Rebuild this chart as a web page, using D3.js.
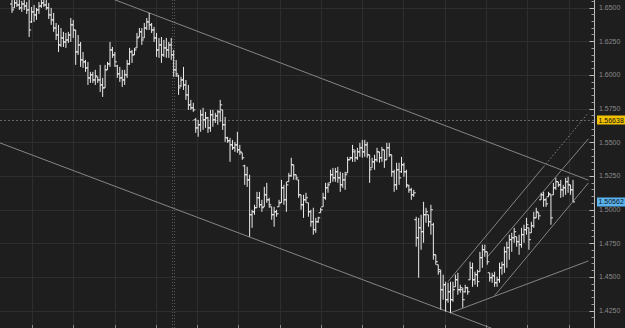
<!DOCTYPE html>
<html>
<head>
<meta charset="utf-8">
<script src="https://cdn.jsdelivr.net/npm/d3@7"></script>
<style>
  html, body { margin: 0; padding: 0; background: #1e1e1e; overflow: hidden; }
  svg { display: block; }
</style>
</head>
<body>
<div id="chart"></div>
<script>
// OHLC bars, oldest first
const highs = [
  1.6556,1.6556,1.6556,1.6556,1.6549,1.6556,1.6541,1.6556,1.6504,1.6519,
  1.6497,1.6541,1.6556,1.6556,1.6556,1.6534,1.6497,1.6460,1.6385,1.6371,
  1.6348,1.6319,1.6311,1.6319,1.6422,1.6408,1.6333,1.6296,1.6244,1.6170,
  1.6111,1.6096,1.6022,1.6022,1.6037,1.5985,1.6074,1.5977,1.6074,1.6096,
  1.6244,1.6207,1.6170,1.6074,1.6059,1.6037,1.6037,1.6111,1.6200,1.6185,
  1.6200,1.6311,1.6348,1.6348,1.6385,1.6422,1.6460,1.6385,1.6356,1.6311,
  1.6274,1.6281,1.6259,1.6274,1.6244,1.6274,1.6185,1.6111,1.6000,1.5985,
  1.6059,1.5962,1.5925,1.5814,1.5792,
  1.5680,1.5666,1.5740,1.5755,1.5725,1.5688,1.5740,1.5740,1.5718,1.5740,
  1.5814,1.5740,1.5688,1.5540,1.5532,1.5517,1.5502,1.5577,1.5480,1.5421,
  1.5332,1.5317,1.5258,1.4998,1.5035,1.5131,1.5131,1.5072,1.5168,1.5198,
  1.5087,1.5020,1.5020,1.4998,1.5072,1.5220,1.5183,1.5206,1.5272,1.5384,
  1.5332,1.5258,1.5220,1.5109,1.5109,1.5124,1.5050,1.4998,1.5013,1.4938,
  1.4946,1.5013,1.5124,1.5198,1.5198,1.5295,1.5309,1.5309,1.5317,1.5280,
  1.5272,1.5280,1.5391,1.5391,1.5480,1.5443,1.5458,1.5495,1.5517,1.5517,
  1.5502,1.5406,1.5384,1.5406,1.5458,1.5428,1.5465,1.5443,1.5495,1.5495,
  1.5406,1.5295,1.5347,1.5347,1.5391,1.5347,1.5295,1.5183,1.5161,1.5146,
  1.4946,1.4938,1.4961,1.5057,1.5013,1.4961,1.5035,1.4901,1.4664,1.4590,
  1.4553,1.4516,1.4464,1.4456,1.4464,1.4464,1.4516,1.4530,1.4441,1.4419,
  1.4441,1.4426,1.4612,1.4605,1.4538,1.4553,1.4686,1.4739,1.4739,1.4686,
  1.4530,1.4530,1.4538,1.4501,1.4605,1.4612,1.4724,1.4761,1.4813,1.4827,
  1.4864,1.4798,1.4813,1.4864,1.4887,1.4938,1.4864,1.4909,1.4983,1.5013,
  1.4976,1.5124,1.5131,1.5087,1.5131,1.5109,1.5198,1.5235,1.5206,1.5220,
  1.5183,1.5235,1.5243,1.5183,1.5220
];
const lows = [
  1.6460,1.6497,1.6504,1.6482,1.6467,1.6482,1.6452,1.6281,1.6385,1.6393,
  1.6408,1.6452,1.6497,1.6504,1.6482,1.6415,1.6371,1.6319,1.6259,1.6170,
  1.6207,1.6207,1.6200,1.6237,1.6244,1.6274,1.6074,1.6148,1.6059,1.6051,
  1.6022,1.5925,1.5940,1.5940,1.5925,1.5940,1.5873,1.5836,1.5903,1.6037,
  1.6059,1.6126,1.6059,1.5977,1.5948,1.5910,1.5925,1.5977,1.6074,1.6089,
  1.6148,1.6200,1.6281,1.6222,1.6274,1.6333,1.6333,1.6311,1.6244,1.6133,
  1.6126,1.6089,1.6133,1.6126,1.6126,1.6111,1.5985,1.5985,1.5851,1.5910,
  1.5888,1.5814,1.5740,1.5740,1.5725,
  1.5569,1.5540,1.5577,1.5591,1.5606,1.5569,1.5577,1.5614,1.5643,1.5629,
  1.5651,1.5591,1.5502,1.5495,1.5354,1.5443,1.5428,1.5421,1.5406,1.5369,
  1.5183,1.5168,1.4798,1.4864,1.4961,1.5013,1.5013,1.4983,1.5020,1.5050,
  1.5013,1.4924,1.4872,1.4946,1.5020,1.5050,1.5035,1.4983,1.5206,1.5243,
  1.5220,1.5220,1.5087,1.4998,1.4938,1.5050,1.4946,1.4872,1.4813,1.4827,
  1.4901,1.4976,1.5020,1.5072,1.5124,1.5198,1.5206,1.5206,1.5198,1.5131,
  1.5161,1.5146,1.5272,1.5369,1.5354,1.5354,1.5369,1.5391,1.5384,1.5391,
  1.5384,1.5198,1.5309,1.5295,1.5354,1.5347,1.5354,1.5309,1.5369,1.5391,
  1.5243,1.5131,1.5146,1.5183,1.5272,1.5243,1.5161,1.5124,1.5072,1.5094,
  1.4724,1.4493,1.4701,1.4753,1.4901,1.4872,1.4813,1.4627,1.4590,1.4516,
  1.4256,1.4330,1.4241,1.4308,1.4233,1.4315,1.4426,1.4367,1.4382,1.4271,
  1.4382,1.4367,1.4478,1.4426,1.4441,1.4426,1.4538,1.4567,1.4649,1.4590,
  1.4464,1.4456,1.4426,1.4426,1.4456,1.4516,1.4530,1.4567,1.4627,1.4686,
  1.4753,1.4724,1.4664,1.4716,1.4753,1.4813,1.4701,1.4827,1.4864,1.4938,
  1.4924,1.5072,1.5020,1.5020,1.5094,1.4887,1.5109,1.5146,1.5168,1.5087,
  1.5094,1.5109,1.5124,1.5109,1.5057
];
const opens = [
  1.6526,1.6497,1.6534,1.6519,1.6497,1.6526,1.6511,1.6482,1.6393,1.6467,
  1.6445,1.6482,1.6511,1.6534,1.6519,1.6497,1.6445,1.6408,1.6348,1.6296,
  1.6222,1.6274,1.6244,1.6259,1.6296,1.6371,1.6333,1.6170,1.6222,1.6111,
  1.6096,1.6051,1.5977,1.6000,1.5962,1.5985,1.5962,1.5925,1.5903,1.6037,
  1.6081,1.6185,1.6148,1.6066,1.6007,1.5977,1.5962,1.6000,1.6081,1.6170,
  1.6148,1.6200,1.6281,1.6319,1.6274,1.6348,1.6393,1.6371,1.6333,1.6274,
  1.6185,1.6222,1.6148,1.6200,1.6185,1.6222,1.6148,1.6037,1.5992,1.5918,
  1.5962,1.5925,1.5851,1.5777,1.5755,
  1.5666,1.5606,1.5629,1.5703,1.5666,1.5680,1.5606,1.5703,1.5666,1.5695,
  1.5725,1.5740,1.5629,1.5532,1.5510,1.5480,1.5458,1.5480,1.5443,1.5421,
  1.5324,1.5258,1.5220,1.4961,1.4983,1.5013,1.5087,1.5035,1.5020,1.5109,
  1.5072,1.5020,1.4961,1.4983,1.5020,1.5050,1.5161,1.5072,1.5206,1.5250,
  1.5332,1.5258,1.5220,1.5109,1.5035,1.5072,1.5050,1.4983,1.4909,1.4850,
  1.4909,1.4976,1.5020,1.5087,1.5161,1.5198,1.5258,1.5235,1.5280,1.5235,
  1.5183,1.5220,1.5272,1.5369,1.5384,1.5428,1.5384,1.5428,1.5458,1.5428,
  1.5480,1.5406,1.5309,1.5354,1.5369,1.5428,1.5384,1.5443,1.5369,1.5458,
  1.5406,1.5280,1.5183,1.5295,1.5280,1.5332,1.5280,1.5176,1.5146,1.5109,
  1.4924,1.4790,1.4864,1.4835,1.4961,1.4961,1.4909,1.4887,1.4664,1.4590,
  1.4538,1.4404,1.4441,1.4330,1.4389,1.4330,1.4426,1.4478,1.4404,1.4404,
  1.4389,1.4419,1.4478,1.4567,1.4478,1.4516,1.4538,1.4642,1.4701,1.4686,
  1.4530,1.4493,1.4508,1.4456,1.4478,1.4567,1.4590,1.4686,1.4716,1.4776,
  1.4790,1.4798,1.4761,1.4739,1.4813,1.4850,1.4864,1.4827,1.4879,1.4938,
  1.4976,1.5072,1.5109,1.5072,1.5094,1.5109,1.5109,1.5161,1.5206,1.5183,
  1.5146,1.5161,1.5206,1.5183,1.5146
];
const closes = [
  1.6482,1.6534,1.6519,1.6497,1.6526,1.6511,1.6482,1.6333,1.6467,1.6445,
  1.6482,1.6511,1.6534,1.6519,1.6497,1.6445,1.6408,1.6348,1.6296,1.6222,
  1.6274,1.6244,1.6259,1.6296,1.6371,1.6333,1.6170,1.6222,1.6111,1.6096,
  1.6051,1.5977,1.6000,1.5962,1.5992,1.5962,1.5925,1.5903,1.6037,1.6081,
  1.6185,1.6148,1.6096,1.6007,1.5977,1.5962,1.6000,1.6081,1.6170,1.6148,
  1.6185,1.6274,1.6319,1.6259,1.6348,1.6393,1.6371,1.6333,1.6274,1.6185,
  1.6222,1.6148,1.6200,1.6185,1.6222,1.6148,1.6037,1.6007,1.5903,1.5962,
  1.5925,1.5851,1.5777,1.5755,1.5740,
  1.5606,1.5629,1.5703,1.5666,1.5680,1.5606,1.5703,1.5666,1.5695,1.5725,
  1.5777,1.5629,1.5532,1.5510,1.5480,1.5458,1.5480,1.5443,1.5428,1.5384,
  1.5258,1.5220,1.4961,1.4983,1.5013,1.5087,1.5035,1.5013,1.5109,1.5072,
  1.5035,1.4961,1.4983,1.4968,1.5050,1.5161,1.5072,1.5183,1.5250,1.5332,
  1.5258,1.5235,1.5109,1.5035,1.5072,1.5087,1.4983,1.4909,1.4850,1.4909,
  1.4938,1.4998,1.5087,1.5161,1.5183,1.5258,1.5235,1.5280,1.5235,1.5183,
  1.5220,1.5258,1.5369,1.5384,1.5443,1.5384,1.5428,1.5458,1.5428,1.5480,
  1.5406,1.5295,1.5354,1.5369,1.5428,1.5384,1.5443,1.5369,1.5458,1.5406,
  1.5280,1.5183,1.5295,1.5235,1.5332,1.5280,1.5183,1.5146,1.5109,1.5124,
  1.4790,1.4864,1.4835,1.4961,1.4983,1.4909,1.4998,1.4664,1.4612,1.4553,
  1.4404,1.4441,1.4330,1.4389,1.4330,1.4404,1.4478,1.4404,1.4419,1.4330,
  1.4419,1.4389,1.4567,1.4478,1.4516,1.4464,1.4642,1.4701,1.4686,1.4612,
  1.4493,1.4508,1.4456,1.4478,1.4567,1.4590,1.4686,1.4716,1.4776,1.4790,
  1.4835,1.4761,1.4739,1.4813,1.4850,1.4887,1.4776,1.4879,1.4938,1.4983,
  1.4953,1.5109,1.5072,1.5042,1.5117,1.4938,1.5161,1.5206,1.5183,1.5146,
  1.5161,1.5206,1.5183,1.5146,1.50562
];

// price axis labels and the time grid (bar index of each vertical grid line)
const priceTicks = [1.6500, 1.6250, 1.6000, 1.5750, 1.5500, 1.5250, 1.5000, 1.4750, 1.4500, 1.4250];
const gridIdx = [8.2, 25.0, 41.9, 58.7, 75.6, 92.4, 109.3, 126.1, 143.0, 159.8, 176.7, 193.5, 210.4, 227.2];
const crossIdx = 65.7;
const markPrice = 1.56638;
const lastPrice = 1.50562;

// drawn trend lines: two anchor points (bar index, price) and the index range to draw
const trendLines = [
  { a: [56, 1.6460], b: [236, 1.5213], from: 40, to: 235.3 },
  { a: [-5, 1.5495], b: [179, 1.4233], from: -5, to: 200 },
  { a: [179, 1.4233], b: [235, 1.4616], from: 179, to: 235.3 },
  { a: [178, 1.4464], b: [232.9, 1.5666], from: 178, to: 217 },
  { a: [178, 1.4464], b: [232.9, 1.5666], from: 217, to: 235.3, dotted: true },
  { a: [194.1, 1.4649], b: [234.9, 1.5517], from: 194.1, to: 235.3 },
  { a: [197, 1.4360], b: [235.7, 1.5206], from: 197, to: 235.3 }
];

const width = 625, height = 328;
const axisX = 594.5;

const svg = d3.select("#chart")
    .append("svg")
    .attr("width", width)
    .attr("height", height);

svg.append("rect")
    .attr("width", width)
    .attr("height", height)
    .attr("fill", "#1e1e1e");

const x = d3.scaleLinear().domain([0, highs.length - 1]).range([12, 573]);
const y = d3.scaleLinear().domain([1.4250, 1.6500]).range([310.5, 7.5]);

svg.append("clipPath").attr("id", "plot")
    .append("rect").attr("x", 0).attr("y", 0).attr("width", axisX).attr("height", height);

const plot = svg.append("g").attr("clip-path", "url(#plot)");

// grid
plot.selectAll(".hgrid")
    .data(priceTicks)
    .enter()
    .append("line")
    .attr("x1", 0).attr("x2", axisX)
    .attr("y1", d => Math.round(y(d)) + 0.5)
    .attr("y2", d => Math.round(y(d)) + 0.5)
    .attr("stroke", "#2e2e2e");

plot.selectAll(".vgrid")
    .data(gridIdx)
    .enter()
    .append("line")
    .attr("x1", d => Math.round(x(d)) + 0.5)
    .attr("x2", d => Math.round(x(d)) + 0.5)
    .attr("y1", 0).attr("y2", height)
    .attr("stroke", "#2e2e2e");

// dotted cross-hair lines
[-1, 1].forEach(off => {
    plot.append("line")
        .attr("x1", Math.round(x(crossIdx)) + off + 0.5)
        .attr("x2", Math.round(x(crossIdx)) + off + 0.5)
        .attr("y1", 0).attr("y2", height)
        .attr("stroke", "#555")
        .attr("stroke-dasharray", "1,2");
});

plot.append("line")
    .attr("x1", 0).attr("x2", axisX)
    .attr("y1", Math.round(y(markPrice)) + 0.5)
    .attr("y2", Math.round(y(markPrice)) + 0.5)
    .attr("stroke", "#666")
    .attr("stroke-dasharray", "2,2");

// trend lines
const priceAt = (t, i) => t.a[1] + (t.b[1] - t.a[1]) * (i - t.a[0]) / (t.b[0] - t.a[0]);
plot.selectAll(".trend")
    .data(trendLines)
    .enter()
    .append("line")
    .attr("x1", d => x(d.from))
    .attr("y1", d => y(priceAt(d, d.from)))
    .attr("x2", d => x(d.to))
    .attr("y2", d => y(priceAt(d, d.to)))
    .attr("stroke", "#858585")
    .attr("stroke-width", 1)
    .attr("stroke-dasharray", d => d.dotted ? "1.5,2" : null);

// OHLC bars
plot.selectAll(".bar")
    .data(highs)
    .enter()
    .append("path")
    .attr("d", (d, i) => {
        const cx = x(i);
        return `M${cx},${y(highs[i])}V${y(lows[i])}` +
               `M${cx - 2},${y(opens[i])}H${cx}` +
               `M${cx},${y(closes[i])}H${cx + 2}`;
    })
    .attr("fill", "none")
    .attr("stroke", "#ececec")
    .attr("stroke-width", 1);

// price axis on the right
svg.append("line")
    .attr("x1", axisX).attr("x2", axisX)
    .attr("y1", 0).attr("y2", height)
    .attr("stroke", "#bdbdbd");

const minorTicks = d3.range(1.4200, 1.6600, 0.005);
svg.selectAll(".minor")
    .data(minorTicks)
    .enter()
    .append("line")
    .attr("x1", axisX - 3).attr("x2", axisX)
    .attr("y1", d => Math.round(y(d)) + 0.5)
    .attr("y2", d => Math.round(y(d)) + 0.5)
    .attr("stroke", "#9a9a9a");

svg.selectAll(".major")
    .data(priceTicks)
    .enter()
    .append("line")
    .attr("x1", axisX - 5).attr("x2", axisX)
    .attr("y1", d => Math.round(y(d)) + 0.5)
    .attr("y2", d => Math.round(y(d)) + 0.5)
    .attr("stroke", "#bdbdbd");

svg.selectAll(".plabel")
    .data(priceTicks)
    .enter()
    .append("text")
    .attr("x", 599)
    .attr("y", d => y(d))
    .attr("dy", "0.35em")
    .style("font-family", "'Liberation Sans', Arial, sans-serif")
    .style("font-size", "7px")
    .attr("fill", "#8a8a8a")
    .text(d => d3.format(".4f")(d));

// bottom time ticks
svg.selectAll(".xtick")
    .data(gridIdx)
    .enter()
    .append("line")
    .attr("x1", d => Math.round(x(d)) + 0.5)
    .attr("x2", d => Math.round(x(d)) + 0.5)
    .attr("y1", height - 3).attr("y2", height)
    .attr("stroke", "#8a8a8a");

// price flags
const flags = [
    { price: markPrice, fill: "#f2c200" },
    { price: lastPrice, fill: "#59b4f0" }
];
flags.forEach(f => {
    const cy = y(f.price);
    svg.append("rect")
        .attr("x", 597).attr("y", Math.round(cy) - 4.5)
        .attr("width", 28).attr("height", 9)
        .attr("fill", f.fill);
    svg.append("text")
        .attr("x", 598.5).attr("y", cy)
        .attr("dy", "0.35em")
        .style("font-family", "'Liberation Sans', Arial, sans-serif")
        .style("font-size", "7px")
        .attr("fill", "#111")
        .text(d3.format(".5f")(f.price));
});
</script>
</body>
</html>
